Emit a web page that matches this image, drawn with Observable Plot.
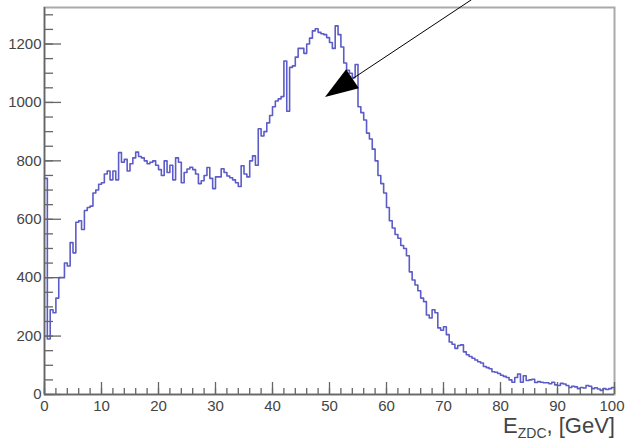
<!DOCTYPE html>
<html><head><meta charset="utf-8">
<script src="https://cdn.jsdelivr.net/npm/d3@7"></script>
<script src="https://cdn.jsdelivr.net/npm/@observablehq/plot@0.6"></script>
<style>body{margin:0;background:#fff;} svg{font-family:"Liberation Sans",Arial,Helvetica,sans-serif;}</style>
</head><body><div id="chart"></div>
<script>
// Histogram of E_ZDC, 200 bins of 0.5 GeV from 0 to 100 GeV
const binWidth = 0.5;
const counts = [
  740,190,290,280,330,400,400,450,440,520, 485,590,595,565,630,640,645,690,700,720,
  725,755,765,735,765,735,828,795,805,765, 790,810,830,815,810,800,790,795,800,785,
  770,750,800,760,785,735,810,795,725,760, 772,778,770,755,722,732,750,777,740,705,
  745,745,773,760,748,742,735,725,712,783, 755,745,800,817,785,910,885,900,930,955,
  985,1005,1012,1020,1142,970,1120,1125,1155,1185, 1185,1168,1200,1220,1245,1252,1240,1235,1232,1222,
  1205,1185,1262,1232,1190,1135,1110,1100,1085,1130, 985,965,940,895,875,840,800,750,722,690,
  640,595,570,548,535,510,500,475,420,392, 375,355,330,318,272,262,290,280,228,220,
  232,205,180,172,158,168,170,146,136,130, 124,118,112,108,96,92,88,78,76,72,
  66,62,58,50,42,58,70,42,64,48, 50,52,41,44,42,40,40,37,42,33,
  31,38,36,31,24,28,26,20,24,22, 31,28,20,23,19,14,20,17,20,24
];
const xRange = [0, 100];
const yRange = [0, 1325];
const xMajorTicks = [0,10,20,30,40,50,60,70,80,90];
const xLastTick = [100];
const xMinorTicks = [0,2,4,6,8,10,12,14,16,18,20,22,24,26,28,30,32,34,36,38,40,42,44,46,48,50,
  52,54,56,58,60,62,64,66,68,70,72,74,76,78,80,82,84,86,88,90,92,94,96,98,100];
const yMajorTicks = [0,200,400,600,800,1000,1200];
const yMinorTicks = [0,50,100,150,200,250,300,350,400,450,500,550,600,650,700,750,800,850,900,950,
  1000,1050,1100,1150,1200,1250,1300];
const axisTitleMain = "E";
const axisTitleSub = "ZDC";
const axisTitleRest = ", [GeV]";
const arrowTail = {x: 75, y: 1350};
const arrowTip = {x: 49.3, y: 1017};

const steps = counts.map((c, i) => ({e: i * binWidth, n: c}));
steps.push({e: counts.length * binWidth, n: counts[counts.length - 1]});

const axisColor = "#666";
const textColor = "#444";

function arrowMark(index, scales) {
  const x1 = scales.x(arrowTail.x), y1 = scales.y(arrowTail.y);
  const x2 = scales.x(arrowTip.x), y2 = scales.y(arrowTip.y);
  const dx = x2 - x1, dy = y2 - y1, L = Math.hypot(dx, dy);
  const ux = dx / L, uy = dy / L;
  const hl = 33, hw = 11.5;
  const bx = x2 - ux * hl, by = y2 - uy * hl;
  const g = d3.create("svg:g");
  g.append("line").attr("x1", x1).attr("y1", y1).attr("x2", bx).attr("y2", by)
    .attr("stroke", "#000").attr("stroke-width", 1);
  g.append("path")
    .attr("d", `M${x2},${y2}L${bx - uy * hw},${by + ux * hw}L${bx + uy * hw},${by - ux * hw}Z`)
    .attr("fill", "#000");
  return g.node();
}

function titleMark(index, scales, values, dims) {
  const t = d3.create("svg:text")
    .attr("x", dims.width - dims.marginRight + 1)
    .attr("y", dims.height - 8)
    .attr("text-anchor", "end")
    .attr("font-size", 22)
    .attr("fill", textColor);
  t.append("tspan").text(axisTitleMain);
  t.append("tspan").attr("font-size", 14).attr("dy", 5).text(axisTitleSub);
  t.append("tspan").attr("dy", -5).text(axisTitleRest);
  return t.node();
}

const chart = Plot.plot({
  width: 625,
  height: 441,
  marginLeft: 44,
  marginRight: 11,
  marginTop: 7,
  marginBottom: 47,
  style: {background: "#fff", fontFamily: "Liberation Sans, Arial, sans-serif"},
  x: {domain: xRange, label: null},
  y: {domain: yRange, label: null},
  marks: [
    Plot.frame({stroke: "#aaa", strokeWidth: 2}),
    Plot.line(steps, {x: "e", y: "n", curve: "step-after", stroke: "#5c5cc8", strokeWidth: 1.6}),
    Plot.ruleX([xRange[0]], {stroke: axisColor, strokeWidth: 1.5}),
    Plot.ruleY([yRange[0]], {stroke: axisColor, strokeWidth: 1.5}),
    Plot.axisY(yMinorTicks, {tickSize: -9, tickFormat: () => "", stroke: axisColor, strokeWidth: 1.3, label: null}),
    Plot.axisY(yMajorTicks, {tickSize: -17, tickFormat: () => "", stroke: axisColor, strokeWidth: 1.3, label: null}),
    Plot.axisY(yMajorTicks, {tickSize: 0, tickPadding: 3, tickFormat: d3.format("d"), fontSize: 15, fill: textColor, label: null}),
    Plot.axisX(xMinorTicks, {tickSize: -6, tickFormat: () => "", stroke: axisColor, strokeWidth: 1.3, label: null}),
    Plot.axisX(xMajorTicks.concat(xLastTick), {tickSize: -12, tickFormat: () => "", stroke: axisColor, strokeWidth: 1.3, label: null}),
    Plot.axisX(xMajorTicks, {tickSize: 0, tickPadding: 6, tickFormat: d3.format("d"), fontSize: 15, fill: textColor, label: null}),
    Plot.axisX(xLastTick, {tickSize: 0, tickPadding: 6, tickFormat: d3.format("d"), fontSize: 15, fill: textColor, textAnchor: "end", dx: 10, label: null}),
    arrowMark,
    titleMark
  ]
});
document.getElementById("chart").appendChild(chart);
</script>
</body></html>
